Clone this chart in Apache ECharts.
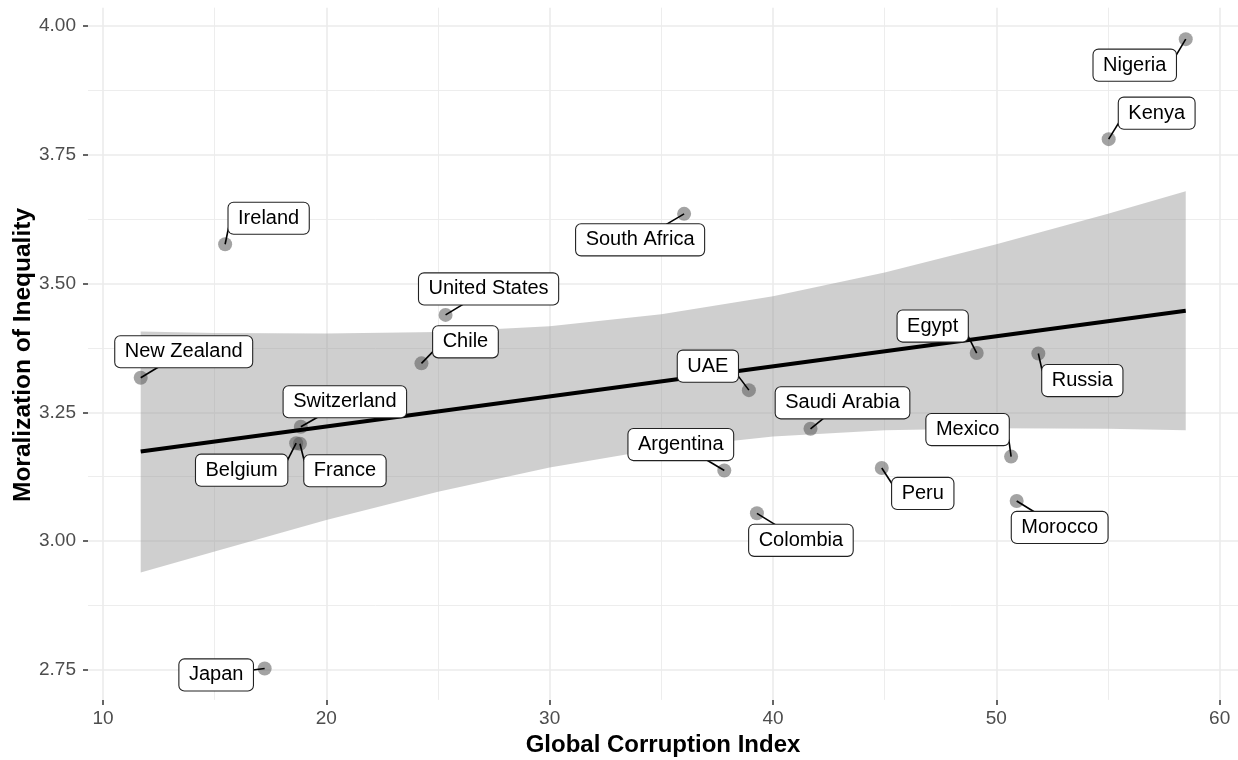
<!DOCTYPE html>
<html>
<head>
<meta charset="utf-8">
<script src="https://cdn.jsdelivr.net/npm/echarts@6/dist/echarts.min.js"></script>
<style>
html,body{margin:0;padding:0;background:#fff;}
#chart{width:1238px;height:760px;}
</style>
</head>
<body>
<div id="chart"></div>
<script>
// ---- data ----
const countries = ['Nigeria','Kenya','Ireland','South Africa','United States','Chile','UAE','Saudi Arabia','Argentina','Colombia','New Zealand','Switzerland','Belgium','France','Japan','Egypt','Russia','Mexico','Peru','Morocco'];
const corruption = [58.48, 55.03, 15.47, 36.02, 25.34, 24.26, 38.92, 41.68, 37.82, 39.28, 11.69, 18.86, 18.65, 18.82, 17.24, 49.12, 51.88, 50.66, 44.87, 50.91];
const moralization = [3.974, 3.780, 3.576, 3.635, 3.439, 3.345, 3.293, 3.218, 3.137, 3.054, 3.317, 3.222, 3.190, 3.189, 2.753, 3.365, 3.364, 3.164, 3.142, 3.078];

const fitX = [11.69, 58.48];
const fitY = [3.174, 3.447];

const bandX = [11.69, 15, 20, 25, 30, 35, 40, 45, 50, 55, 58.48];
const bandUpper = [3.407, 3.404, 3.403, 3.406, 3.417, 3.440, 3.475, 3.521, 3.576, 3.635, 3.679];
const bandLower = [2.939, 2.980, 3.041, 3.096, 3.143, 3.180, 3.203, 3.215, 3.219, 3.218, 3.215];

const xTicks = [10, 20, 30, 40, 50, 60];
const xMinorTicks = [15, 25, 35, 45, 55];
const yTicks = [2.75, 3.00, 3.25, 3.50, 3.75, 4.00];
const yMinorTicks = [2.875, 3.125, 3.375, 3.625, 3.875];

const xTitle = 'Global Corruption Index';
const yTitle = 'Moralization of Inequality';

// ---- label placement (style: pixel offset of label box centre from its point) ----
const labelOffsets = [[-51,26],[48,-26],[43.5,-26],[-44,26],[43,-26],[44,-21.5],[-41,-24],[32,-26],[-43.5,-26],[44,27],[43,-26],[44,-25],[-54.5,27],[45,27],[-48.5,6.5],[-44,-27],[44,27],[-43.5,-27],[41,25.5],[43,26.5]];

const FONT = '"Liberation Sans", Arial, Helvetica, sans-serif';
const LABEL_SIZE = 20, PADX = 9.5, PADY = 5.5, INSET = 6;
const measureCtx = document.createElement('canvas').getContext('2d');
measureCtx.font = LABEL_SIZE + 'px ' + FONT;
function textW(t){ return measureCtx.measureText(t).width; }

const pointData = corruption.map((x, i) => [x, moralization[i]]);

const chart = echarts.init(document.getElementById('chart'), null, {renderer: 'canvas'});

const gridLine = '#EBEBEB';
const option = {
  animation: false,
  backgroundColor: '#ffffff',
  grid: {left: 88, right: 0, top: 7.7, bottom: 60.1, containLabel: false, outerBoundsMode: 'none'},
  graphic: [{
    type: 'text', x: 23, y: 355, rotation: Math.PI / 2, silent: true,
    style: {text: yTitle, fontSize: 24.5, fontWeight: 'bold', fontFamily: FONT, fill: '#000',
      align: 'center', verticalAlign: 'middle'}
  }],
  xAxis: [{
    type: 'value', min: 9.33, max: 60.82,
    axisLine: {show: false},
    axisTick: {show: true, length: 5, customValues: xTicks, lineStyle: {color: '#333333', width: 1.5}},
    axisLabel: {customValues: xTicks, color: '#4D4D4D', fontSize: 19, fontFamily: FONT, margin: 9},
    splitLine: {show: true, lineStyle: {color: gridLine, width: 1.6}},
    name: xTitle, nameLocation: 'middle', nameGap: 33,
    nameTextStyle: {color: '#000', fontSize: 24, fontWeight: 'bold', fontFamily: FONT}
  }, {
    type: 'value', min: 9.33, max: 60.82, position: 'bottom',
    axisLine: {show: false},
    axisTick: {show: false, customValues: xMinorTicks},
    axisLabel: {show: false, customValues: xMinorTicks},
    splitLine: {show: true, lineStyle: {color: gridLine, width: 0.9}}
  }],
  yAxis: [{
    type: 'value', min: 2.692, max: 4.035,
    axisLine: {show: false},
    axisTick: {show: true, length: 5, customValues: yTicks, lineStyle: {color: '#333333', width: 1.5}},
    axisLabel: {customValues: yTicks, color: '#4D4D4D', fontSize: 19, fontFamily: FONT, margin: 12,
      formatter: v => v.toFixed(2)},
    splitLine: {show: true, lineStyle: {color: gridLine, width: 1.6}}
  }, {
    type: 'value', min: 2.692, max: 4.035, position: 'left',
    axisLine: {show: false},
    axisTick: {show: false, customValues: yMinorTicks},
    axisLabel: {show: false, customValues: yMinorTicks},
    splitLine: {show: true, lineStyle: {color: gridLine, width: 0.9}}
  }],
  series: [
    {
      type: 'custom', name: 'band', xAxisIndex: 0, yAxisIndex: 0, z: 2,
      data: [[bandX[0], bandUpper[0]]],
      renderItem: (params, api) => {
        const pts = [];
        for (let i = 0; i < bandX.length; i++) pts.push(api.coord([bandX[i], bandUpper[i]]));
        for (let i = bandX.length - 1; i >= 0; i--) pts.push(api.coord([bandX[i], bandLower[i]]));
        return {type: 'polygon', shape: {points: pts}, style: {fill: 'rgba(153,153,153,0.47)'}};
      }
    },
    {
      type: 'scatter', name: 'points', z: 3,
      data: pointData, symbol: 'circle', symbolSize: 14,
      itemStyle: {color: 'rgba(85,85,85,0.68)'}
    },
    {
      type: 'line', name: 'fit', z: 4,
      data: fitX.map((x, i) => [x, fitY[i]]),
      symbol: 'none', lineStyle: {color: '#000', width: 4}
    },
    {
      type: 'custom', name: 'labels', z: 5,
      data: pointData,
      renderItem: (params, api) => {
        const i = params.dataIndex;
        const p = api.coord([api.value(0), api.value(1)]);
        const off = labelOffsets[i];
        const cx = p[0] + off[0], cy = p[1] + off[1];
        const hw = textW(countries[i]) / 2 + PADX, hh = LABEL_SIZE / 2 + PADY;
        const x1 = cx - hw, x2 = cx + hw, y1 = cy - hh, y2 = cy + hh;
        const outX = p[0] < x1 || p[0] > x2, outY = p[1] < y1 || p[1] > y2;
        let ex, ey;
        if (outX && outY) {
          ex = p[0] < x1 ? x1 : x2;
          ey = p[1] < y1 ? y1 + INSET : y2 - INSET;
        } else {
          const dx = p[0] - cx, dy = p[1] - cy;
          const s = Math.min(dx ? hw / Math.abs(dx) : Infinity, dy ? hh / Math.abs(dy) : Infinity);
          ex = cx + dx * s; ey = cy + dy * s;
        }
        return {
          type: 'group',
          children: [
            {type: 'line', shape: {x1: p[0], y1: p[1], x2: ex, y2: ey}, style: {stroke: '#000', lineWidth: 1.6}},
            {type: 'text', x: cx, y: cy, style: {
              text: countries[i], fontSize: LABEL_SIZE, fontFamily: FONT, fill: '#000',
              align: 'center', verticalAlign: 'middle', lineHeight: LABEL_SIZE,
              backgroundColor: '#ffffff', borderColor: '#222222', borderWidth: 1.1, borderRadius: 5,
              padding: [PADY, PADX]
            }}
          ]
        };
      }
    }
  ]
};
chart.setOption(option);
</script>
</body>
</html>
